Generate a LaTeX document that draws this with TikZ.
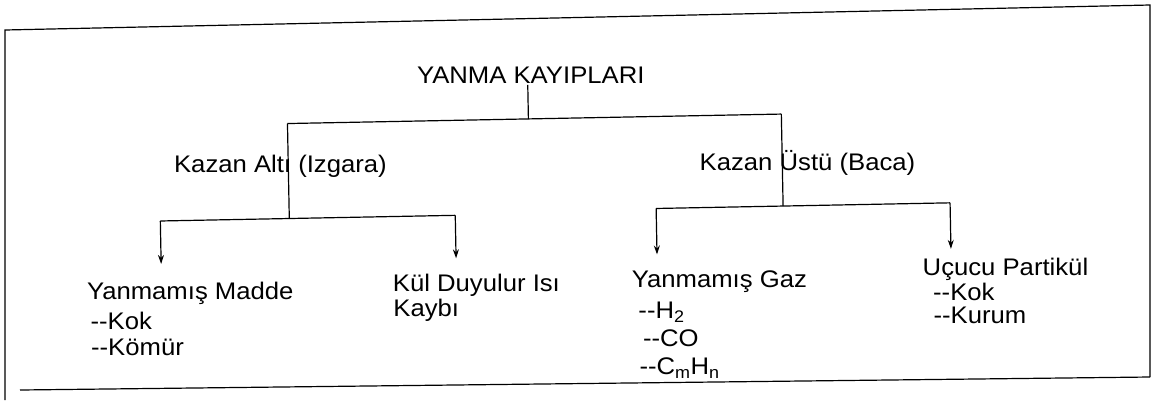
\documentclass[tikz,border=0pt]{standalone}
\usepackage{fontspec}
\setmainfont{Liberation Sans}[FakeStretch=1.07]
\usetikzlibrary{arrows.meta}
\begin{document}
\begin{tikzpicture}[x=1pt,y=-1pt,
  conn/.style={line width=1.2pt},
  arr/.style={conn,-{Stealth[length=9pt,width=6pt]}},
  lbl/.style={font=\fontsize{24}{28}\selectfont, inner sep=0pt, anchor=base},
  txt/.style={font=\fontsize{24}{28}\selectfont, inner sep=0pt, anchor=base west}]
\useasboundingbox (0,0) rectangle (1154,400);
% frame
\draw[conn] (5,400) -- (5,30) -- (1150,5) -- (1150,377);
\draw[conn] (20,390) -- (1150,377);
\begin{scope}[rotate around={1.1:(577,200)}]
% labels
\node[lbl] (title) at (533,83) {YANMA KAYIPLARI};
\node[lbl] (alt) at (281,167) {Kazan Altı (Izgara)};
\node[lbl] (ust) at (808,175) {Kazan Üstü (Baca)};
% leaf texts
\node[txt] (m0) at (85,290) {Yanmamış Madde};
\node[txt] (m1) at (88,320) {-{}-Kok};
\node[txt] (m2) at (88,346) {-{}-Kömür};
\node[txt] (k0) at (391,288) {Kül Duyulur Isı};
\node[txt] (k1) at (391,313) {Kaybı};
\node[txt] (g0) at (630,289) {Yanmamış Gaz};
\node[txt] (g1) at (636,320) {-{}-H\textsubscript{2}};
\node[txt] (g2) at (640,348) {-{}-CO};
\node[txt] (g3) at (636,376) {-{}-C\textsubscript{m}H\textsubscript{n}};
\node[txt] (p0) at (921,282) {Uçucu Partikül};
\node[txt] (p1) at (931,307) {-{}-Kok};
\node[txt] (p2) at (931,330) {-{}-Kurum};
% junctions
\coordinate (t0) at (530,84);
\coordinate (j0) at (530,118);
\coordinate (j1) at (289,118);
\coordinate (j2) at (783,118);
\coordinate (jl) at (289,213);
\coordinate (jr) at (783,210);
\coordinate (l1) at (160,213);
\coordinate (l2) at (455,213);
\coordinate (r1) at (656,210);
\coordinate (r2) at (950,210);
\coordinate (a1) at (160,256);
\coordinate (a2) at (455,256);
\coordinate (a3) at (656,256);
\coordinate (a4) at (950,256);
% tree
\draw[conn] (t0) -- (j0);
\draw[conn] (j1) -- (j2);
\draw[conn] (j1) -- (jl);
\draw[conn] (j2) -- (jr);
\draw[conn] (l1) -- (l2);
\draw[conn] (r1) -- (r2);
\draw[arr] (l1) -- (a1);
\draw[arr] (l2) -- (a2);
\draw[arr] (r1) -- (a3);
\draw[arr] (r2) -- (a4);
\end{scope}
\end{tikzpicture}
\end{document}
